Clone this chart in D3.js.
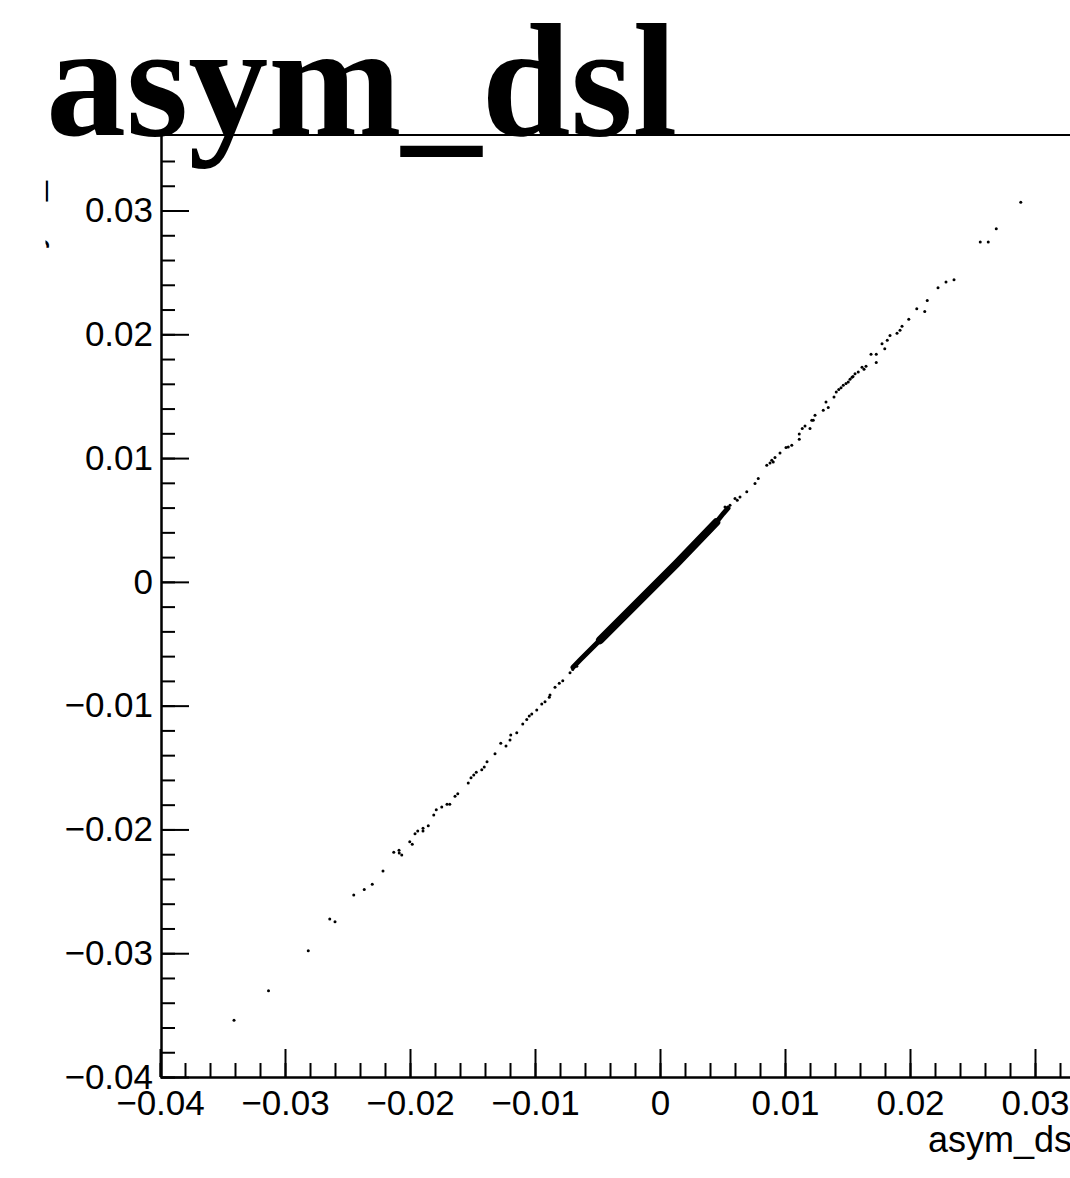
<!DOCTYPE html>
<html>
<head>
<meta charset="utf-8">
<script src="https://cdn.jsdelivr.net/npm/d3@7"></script>
<style>
  body { margin: 0; background: #fff; }
  svg { display: block; }
</style>
</head>
<body>
<div id="chart"></div>
<script>
// title and axis names
var titleText = "asym_dsl";
var xTitle = "asym_dsl";
var yTitle = "asym_dsl";

// major tick labels
var xTicks = [-0.04, -0.03, -0.02, -0.01, 0, 0.01, 0.02, 0.03];
var yTicks = [-0.04, -0.03, -0.02, -0.01, 0, 0.01, 0.02, 0.03];

// scattered events
var ptX = [0.02886, 0.02690, 0.02562, 0.02626, 0.02352, 0.02288, 0.02224, 0.02138, 0.02054, 0.02118,
    0.01990, 0.01920, 0.01936, 0.01896, 0.01840, 0.01818, 0.01776, 0.01798, 0.01688, 0.01730,
    0.01730, 0.01616, 0.01632, 0.01648, 0.01586, 0.01560, 0.01536, 0.01520, 0.01544, 0.01506,
    0.01488, 0.01466, 0.01448, 0.01430, 0.01410, 0.01392, 0.01328, 0.01346, 0.01306, 0.01240,
    0.01226, 0.01214, 0.01200, 0.01160, 0.01138, 0.01114, 0.01114, 0.01054, 0.01026, 0.01008,
    0.00960, 0.00920, 0.00906, 0.00894, 0.00880, 0.00854, 0.00786, 0.00760, 0.00694, 0.00640,
    0.00618, 0.00600, 0.00560, 0.00520,
    -0.00666, -0.00698, -0.00720, -0.00778, -0.00806, -0.00840, -0.00880, -0.00886, -0.00920, -0.00946,
    -0.00986, -0.01026, -0.01046, -0.01066, -0.01098, -0.01146, -0.01194, -0.01200, -0.01232, -0.01274,
    -0.01320, -0.01384, -0.01406, -0.01426, -0.01470, -0.01490, -0.01512, -0.01534, -0.01618, -0.01640,
    -0.01682, -0.01704, -0.01746, -0.01790, -0.01810, -0.01854, -0.01896, -0.01896, -0.01938, -0.01960,
    -0.01982, -0.02002, -0.02066, -0.02086, -0.02088, -0.02130, -0.02216, -0.02302, -0.02366, -0.02450,
    -0.02600, -0.02642, -0.02814, -0.03132, -0.03408];
var ptY = [0.03067, 0.02853, 0.02745, 0.02745, 0.02441, 0.02422, 0.02377, 0.02272, 0.02207, 0.02185,
    0.02121, 0.02032, 0.02064, 0.02008, 0.01991, 0.01951, 0.01924, 0.01884, 0.01838, 0.01838,
    0.01773, 0.01733, 0.01717, 0.01741, 0.01695, 0.01682, 0.01652, 0.01636, 0.01660, 0.01614,
    0.01602, 0.01588, 0.01569, 0.01553, 0.01534, 0.01493, 0.01453, 0.01408, 0.01386, 0.01346,
    0.01305, 0.01305, 0.01238, 0.01259, 0.01238, 0.01195, 0.01152, 0.01103, 0.01090, 0.01085,
    0.01041, 0.01004, 0.00969, 0.00982, 0.00961, 0.00942, 0.00835, 0.00794, 0.00727, 0.00686,
    0.00660, 0.00673, 0.00619, 0.00605,
    -0.00681, -0.00707, -0.00735, -0.00799, -0.00820, -0.00852, -0.00915, -0.00933, -0.00969, -0.00987,
    -0.01036, -0.01068, -0.01084, -0.01111, -0.01149, -0.01219, -0.01237, -0.01278, -0.01326, -0.01304,
    -0.01388, -0.01453, -0.01496, -0.01518, -0.01539, -0.01560, -0.01582, -0.01625, -0.01711, -0.01732,
    -0.01797, -0.01797, -0.01819, -0.01840, -0.01883, -0.01970, -0.01991, -0.02012, -0.02012, -0.02034,
    -0.02120, -0.02099, -0.02206, -0.02190, -0.02168, -0.02184, -0.02335, -0.02443, -0.02486, -0.02529,
    -0.02745, -0.02723, -0.02981, -0.03304, -0.03541];

// dense core of events, traced along its middle
var bandX = [-0.00696, -0.0064, -0.004, -0.00134, 0.00134, 0.004, 0.00506, 0.00544];
var bandY = [-0.00689, -0.00632, -0.0039, -0.00121, 0.00149, 0.00418, 0.00552, 0.00595];
var coreX = [-0.0048, -0.00134, 0.00134, 0.0045];
var coreY = [-0.00471, -0.00121, 0.00149, 0.00481];

var W = 1070, H = 1178;
var svg = d3.select("#chart").append("svg")
    .attr("width", W)
    .attr("height", H);
svg.append("rect").attr("width", W).attr("height", H).attr("fill", "#fff");

var axX = 161, axBottom = 1077, axTop = 135;
var x = d3.scaleLinear().domain([-0.04, 0.04]).range([160, 1160]);
var y = d3.scaleLinear().domain([-0.04, 0.0361]).range([axBottom, axTop]);

var sans = "'Liberation Sans', Arial, Helvetica, sans-serif";
var fmt = d3.format("~g");

// big title
svg.append("text")
    .attr("x", 46)
    .attr("y", 135)
    .attr("font-family", "'Liberation Serif', 'Times New Roman', serif")
    .attr("font-weight", "bold")
    .attr("font-size", 160)
    .attr("fill", "#000")
    .text(titleText);

// points
var line = d3.line().x(d => x(d[0])).y(d => y(d[1]));
svg.append("path")
    .datum(bandX.map((v, i) => [v, bandY[i]]))
    .attr("d", line)
    .attr("fill", "none")
    .attr("stroke", "#000")
    .attr("stroke-width", 5)
    .attr("stroke-linecap", "round");
svg.append("path")
    .datum(coreX.map((v, i) => [v, coreY[i]]))
    .attr("d", line)
    .attr("fill", "none")
    .attr("stroke", "#000")
    .attr("stroke-width", 8)
    .attr("stroke-linecap", "round");

svg.append("g").selectAll("circle")
    .data(ptX.map((v, i) => [v, ptY[i]]))
    .enter().append("circle")
    .attr("cx", d => x(d[0]))
    .attr("cy", d => y(d[1]))
    .attr("r", 1.5)
    .attr("fill", "#000");

// frame top
svg.append("line")
    .attr("x1", axX).attr("x2", W)
    .attr("y1", axTop).attr("y2", axTop)
    .attr("stroke", "#000").attr("stroke-width", 2);

// ticks point inside the frame
var minorX = d3.range(-20, 20).map(i => i * 0.002);
var minorY = d3.range(-20, 18).map(i => i * 0.002);

function styleAxis(g) {
    g.selectAll("path, line").attr("stroke", "#000").attr("stroke-width", 2);
}

svg.append("g")
    .attr("transform", `translate(0,${axBottom})`)
    .call(d3.axisTop(x).tickValues(minorX).tickSize(14).tickSizeOuter(0).tickFormat(""))
    .call(styleAxis);
svg.append("g")
    .attr("transform", `translate(0,${axBottom})`)
    .call(d3.axisTop(x).tickValues(xTicks).tickSize(28).tickSizeOuter(0).tickFormat(""))
    .call(styleAxis);

svg.append("g")
    .attr("transform", `translate(${axX},0)`)
    .call(d3.axisRight(y).tickValues(minorY).tickSize(14).tickSizeOuter(0).tickFormat(""))
    .call(styleAxis);
svg.append("g")
    .attr("transform", `translate(${axX},0)`)
    .call(d3.axisRight(y).tickValues(yTicks).tickSize(28).tickSizeOuter(0).tickFormat(""))
    .call(styleAxis);

// tick labels
var xl = svg.append("g")
    .attr("transform", `translate(0,${axBottom})`)
    .call(d3.axisBottom(x).tickValues(xTicks).tickSize(0).tickPadding(13).tickFormat(fmt));
xl.select(".domain").remove();
xl.attr("font-family", sans).attr("font-size", 35);
xl.selectAll("text").attr("fill", "#000");

var yl = svg.append("g")
    .attr("transform", `translate(${axX},0)`)
    .call(d3.axisLeft(y).tickValues(yTicks).tickSize(0).tickPadding(8).tickFormat(fmt));
yl.select(".domain").remove();
yl.attr("font-family", sans).attr("font-size", 35);
yl.selectAll("text").attr("fill", "#000");

// axis titles
svg.append("text")
    .attr("x", 928)
    .attr("y", 1152)
    .attr("font-family", sans)
    .attr("font-size", 36)
    .attr("fill", "#000")
    .text(xTitle);

// y title sits outside the pad and gets cut, only the descenders show
svg.append("clipPath").attr("id", "padclip")
    .append("rect").attr("x", 45.5).attr("y", 0).attr("width", W).attr("height", H);
svg.append("g")
    .attr("clip-path", "url(#padclip)")
    .append("text")
    .attr("transform", `translate(41,${axTop}) rotate(-90)`)
    .attr("text-anchor", "end")
    .attr("font-family", sans)
    .attr("font-size", 36)
    .attr("fill", "#000")
    .text(yTitle);
</script>
</body>
</html>
